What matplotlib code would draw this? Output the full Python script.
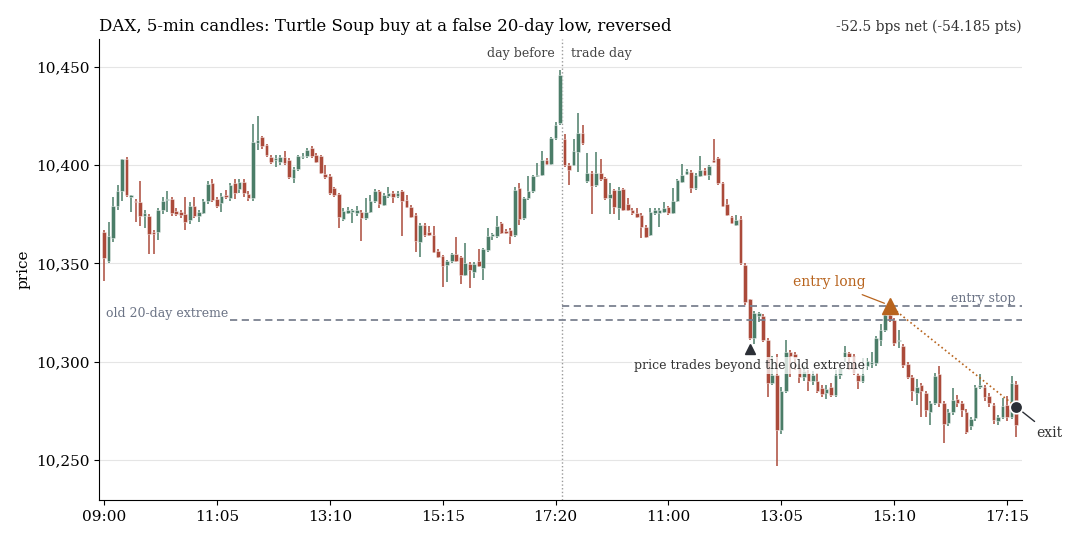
import numpy as np
import matplotlib
matplotlib.use('agg')
import matplotlib.pyplot as plt
from matplotlib.ticker import FuncFormatter

plt.rcParams['font.family'] = 'DejaVu Serif'

# 5-min candles, day before (09:00-17:25) then trade day
day1_open = [10366, 10351, 10363, 10379, 10387, 10403, 10384, 10382, 10381, 10374,
             10374, 10366, 10366, 10377, 10382.3, 10383, 10376.7, 10376.2, 10375, 10372,
             10379, 10374, 10375.5, 10381.5, 10391, 10383, 10380.6, 10385, 10383.2, 10391,
             10388, 10391.6, 10385.4, 10383.2, 10411.1, 10414.2, 10410.3, 10404, 10402.7, 10401.8,
             10403.9, 10402.7, 10393.3, 10397.9, 10404, 10404.4, 10408.6, 10405.2, 10404.4, 10395.5,
             10394.5, 10388.2, 10385.4, 10372.5, 10375.9, 10376.2, 10375.9, 10376, 10373, 10376.4,
             10381.5, 10386.9, 10379.8, 10384.3, 10386, 10384.3, 10386.6, 10382.3, 10378.9, 10374.7,
             10361.1, 10369.6, 10365.8, 10364.5, 10356.5, 10353.8, 10349.2, 10351, 10354.8, 10353.1,
             10344.1, 10349.7, 10345.8, 10351, 10347.5, 10356.9, 10363.7, 10363.7, 10370.4, 10366.7,
             10367, 10364.5, 10388.2, 10373, 10383.2, 10386.6, 10394.5, 10395, 10402.7, 10400.6,
             10413.7, 10421.3]
day1_high = [10367, 10371, 10384, 10390, 10403, 10404, 10385, 10383, 10392, 10377,
             10375, 10367, 10378, 10384, 10387, 10384, 10378, 10377, 10384, 10381,
             10384, 10377, 10383, 10392, 10393, 10384, 10386, 10387.4, 10391, 10393,
             10393, 10393, 10387, 10420.8, 10425, 10415, 10411, 10405, 10405.2, 10405,
             10407, 10403.5, 10399, 10405, 10406, 10408.5, 10409.5, 10406, 10405, 10400,
             10395.5, 10389, 10386, 10378, 10378.5, 10377.8, 10379, 10377, 10383.5, 10384.9,
             10388, 10387.5, 10386, 10389.1, 10386.8, 10387, 10387.5, 10384.9, 10379.5, 10375.5,
             10370.5, 10370.5, 10369.2, 10369, 10357.2, 10354.5, 10351.8, 10355.5, 10363.2, 10353.8,
             10360.6, 10350.5, 10350.5, 10357.2, 10358, 10368.2, 10365.5, 10374.2, 10371.2, 10367.5,
             10367.8, 10389, 10390.8, 10384, 10394.5, 10395.2, 10401, 10407.4, 10403.5, 10414.5,
             10422.2, 10448.5]
day1_low = [10341, 10350, 10361, 10377, 10382, 10384, 10376, 10371, 10369, 10368,
            10355, 10355, 10362, 10375, 10376, 10374, 10374, 10373, 10367, 10370,
            10373, 10371, 10375, 10380, 10381, 10378, 10376, 10383, 10382, 10383,
            10386, 10384, 10382, 10382, 10407.7, 10408, 10404, 10400.5, 10399.3, 10400,
            10400, 10393, 10391, 10397, 10403, 10403.5, 10403.5, 10401, 10395.5, 10393,
            10385, 10384, 10368.2, 10371.5, 10375, 10370.8, 10374, 10361.6, 10372, 10375.5,
            10380.5, 10378.4, 10379, 10383.5, 10380.6, 10383.5, 10364, 10378, 10373, 10355.7,
            10353.5, 10363.5, 10363.8, 10355.5, 10352.8, 10338.2, 10340.7, 10350.2, 10350.8, 10339.6,
            10343.5, 10337.4, 10342.5, 10348, 10341.3, 10356, 10362, 10363, 10365, 10365,
            10359.9, 10363.5, 10369.6, 10372, 10382.5, 10386, 10393.8, 10394.5, 10400, 10400,
            10413, 10420.5]
day1_close = [10353, 10364, 10379, 10387, 10403, 10385, 10384.5, 10381, 10374, 10375.5,
              10365, 10365, 10377, 10382, 10383, 10375.5, 10375.2, 10374.7, 10371, 10379,
              10374, 10376, 10382, 10390.4, 10382.3, 10379, 10384.3, 10383.7, 10390, 10386,
              10391.5, 10385.7, 10383.2, 10412, 10412.8, 10409.5, 10405.2, 10401.8, 10403.5, 10403.9,
              10401, 10393.8, 10397.9, 10404.4, 10404.9, 10407.8, 10404.4, 10401.8, 10396.2, 10393.8,
              10385.7, 10384.9, 10373.5, 10376.7, 10377.2, 10377, 10377.2, 10373, 10376, 10381.5,
              10386.6, 10380.1, 10384.9, 10386, 10384, 10386, 10381.5, 10378.9, 10373.8, 10361.6,
              10369.6, 10364.5, 10364.5, 10356, 10353.5, 10348.7, 10351, 10354.8, 10351.4, 10344.1,
              10350.1, 10346.4, 10349.7, 10348.7, 10357.2, 10363.7, 10364.8, 10369.1, 10365.7, 10365.7,
              10363.7, 10387.4, 10372.5, 10383.2, 10386.9, 10394.5, 10395, 10402.7, 10400.6, 10413.7,
              10420.5, 10445.9]

day2_open = [10413.2, 10400.1, 10400.1, 10406.9, 10416.6, 10392.1, 10395.9, 10389.9, 10396.2, 10393.3,
             10383.2, 10387.4, 10378.1, 10387.7, 10380.3, 10377.2, 10375.5, 10374.7, 10368.7, 10364.5,
             10375.5, 10375.5, 10376.4, 10378.6, 10375.9, 10381.5, 10391.6, 10395.5, 10396.7, 10388.2,
             10394.5, 10397.6, 10395, 10402.7, 10403.5, 10390.8, 10380.3, 10373.5, 10369.6, 10372.5,
             10349.2, 10331.8, 10311.9, 10323, 10323.3, 10311, 10289, 10293, 10265, 10285,
             10305, 10304, 10297, 10292, 10294, 10290, 10290, 10286.5, 10284, 10287,
             10283, 10293, 10302.6, 10304.6, 10303, 10293, 10290, 10298, 10299, 10299.2,
             10311, 10316, 10323.8, 10321, 10310.5, 10308, 10299, 10292.4, 10284, 10288,
             10284, 10274.6, 10279.2, 10293.8, 10279, 10268.7, 10274.6, 10281, 10279, 10274.6,
             10267, 10271.2, 10287, 10287, 10282.6, 10278, 10270, 10272, 10278, 10272,
             10288.7]
day2_high = [10416, 10401, 10413.2, 10426.4, 10420.5, 10406.1, 10396.8, 10406.6, 10403.3, 10394,
             10390.8, 10388, 10389, 10388.5, 10383.2, 10378, 10378.1, 10375.5, 10369.5, 10378.1,
             10378, 10378, 10381, 10379.3, 10388.2, 10393.2, 10400.5, 10398, 10397.4, 10395.8,
             10404.4, 10398.3, 10400.3, 10413.2, 10404.2, 10391.5, 10382.7, 10374.2, 10374.8, 10374,
             10350, 10332, 10326, 10325.5, 10324, 10312, 10303, 10304, 10287, 10311,
             10306, 10305, 10299, 10298, 10296, 10295, 10294, 10288, 10288, 10289,
             10296, 10298, 10308, 10305, 10304, 10294, 10302, 10302, 10305, 10313,
             10319, 10325, 10328.5, 10322, 10316, 10309, 10300, 10293, 10291, 10289,
             10285, 10280, 10294, 10297.8, 10280, 10276, 10286.5, 10283, 10280, 10276,
             10272, 10288, 10293.8, 10288, 10284, 10279, 10273, 10281.4, 10282.6, 10292.7,
             10290]
day2_low = [10399, 10389.9, 10399.5, 10396.7, 10410.5, 10391, 10375.2, 10389, 10392, 10382.5,
            10375.2, 10375.2, 10372.1, 10376.5, 10376.5, 10374.8, 10373, 10363.1, 10362.8, 10363.8,
            10374.8, 10368.7, 10375.8, 10374.8, 10375.2, 10381, 10391, 10395, 10386, 10387.5,
            10394, 10394.5, 10392.5, 10401.2, 10390, 10378.5, 10374, 10369.8, 10369, 10349,
            10329, 10311, 10309, 10320, 10310, 10282, 10288, 10247, 10263, 10284,
            10292, 10296, 10289, 10290, 10285, 10288, 10284, 10282, 10281, 10282,
            10282, 10291, 10300, 10296, 10293, 10286, 10289, 10296, 10297, 10298,
            10308, 10315, 10320, 10308, 10307, 10297, 10291, 10280, 10278, 10272,
            10272, 10268, 10278, 10277, 10258.8, 10267, 10273, 10277, 10272, 10263,
            10265.3, 10270, 10286, 10280, 10277, 10268.3, 10267.8, 10271, 10270, 10271,
            10261.5]
day2_close = [10400.1, 10397.6, 10407.2, 10416.6, 10411.5, 10396.2, 10389.4, 10396.2, 10392.8, 10383.2,
              10385.4, 10378.6, 10387.4, 10377.2, 10377.2, 10375.5, 10373.8, 10368.7, 10363.6, 10376.4,
              10377.2, 10377.2, 10378.1, 10375.5, 10381.5, 10392.5, 10395, 10397.2, 10388.2, 10395,
              10397.6, 10395, 10399.6, 10401.8, 10390.8, 10379.3, 10374.7, 10370.4, 10372.1, 10350.4,
              10330.6, 10311.9, 10325, 10324.6, 10311, 10289, 10293, 10265, 10285, 10305,
              10303, 10302, 10292, 10295, 10290, 10293, 10285, 10283.6, 10286, 10283,
              10293, 10297, 10305, 10302.6, 10294, 10290, 10293, 10300.5, 10300, 10311.9,
              10316, 10323.8, 10321.6, 10309.4, 10311, 10298.4, 10292.4, 10285.3, 10287, 10285,
              10275.4, 10279, 10292.7, 10278.8, 10268.3, 10274.6, 10280.5, 10279, 10275.5, 10264,
              10271, 10287.3, 10288, 10282, 10278.8, 10270.4, 10272, 10277.5, 10272, 10289,
              10267.8]

tick_labels = ['09:00', '11:05', '13:10', '15:15', '17:20', '11:00', '13:05', '15:10', '17:15']

old_extreme = 10321.2
entry_stop = 10328.4
signal_price = 10306.5
exit_price = 10277.0

UP = '#4b7d68'
DOWN = '#ab4a3a'
GUIDE = '#7b8190'
ORANGE = '#b8641e'
DARK = '#2b2f36'


def draw_candles(ax, o, h, l, c):
    x = np.arange(len(o))
    o, h, l, c = map(np.asarray, (o, h, l, c))
    colors = np.where(c >= o, UP, DOWN)
    ax.vlines(x, l, h, colors=colors, linewidth=1.1, zorder=2)
    bottom = np.minimum(o, c)
    height = np.maximum(np.abs(c - o), 0.6)
    ax.bar(x, height, bottom=bottom, width=0.8, color=colors,
           edgecolor=(1, 1, 1, 0.6), linewidth=0.5, zorder=3)
    return x


def main():
    opens = day1_open + day2_open
    highs = day1_high + day2_high
    lows = day1_low + day2_low
    closes = day1_close + day2_close
    n1 = len(day1_open)

    fig = plt.figure(figsize=(10.8, 5.4), dpi=100)
    ax = fig.add_axes([0.0917, 0.0741, 0.8546, 0.8537])

    draw_candles(ax, opens, highs, lows, closes)

    ax.set_xlim(-1.1, 203.3)
    ax.set_ylim(10229.6, 10464.2)

    # day separator
    sep = n1 - 0.5
    ax.axvline(sep, color='#9a9a9a', linestyle=':', linewidth=1.0, zorder=1)
    ax.text(sep - 1.7, 10457, 'day before', ha='right', va='center', fontsize=9, color='#444444')
    ax.text(sep + 1.9, 10457, 'trade day', ha='left', va='center', fontsize=9, color='#444444')

    # guide levels
    ax.hlines(old_extreme, 28, 203.3, colors=GUIDE, linestyles=(0, (4, 2.5)), linewidth=1.3, zorder=4)
    ax.text(0.4, old_extreme + 3.5, 'old 20-day extreme', ha='left', va='center',
            fontsize=9, color='#6b7385')
    ax.hlines(entry_stop, sep, 203.3, colors=GUIDE, linestyles=(0, (4, 2.5)), linewidth=1.3, zorder=4)
    ax.text(201.8, entry_stop + 3.7, 'entry stop', ha='right', va='center',
            fontsize=9, color='#6b7385')

    # signal bar
    sig_i = 143
    ax.plot(sig_i, signal_price, marker='^', color=DARK, markersize=7, zorder=6)
    ax.text(sig_i, signal_price - 8.5, 'price trades beyond the old extreme', ha='center', va='center',
            fontsize=9, color='#333333', zorder=7,
            bbox=dict(boxstyle='square,pad=0.15', facecolor='white', edgecolor='none', alpha=0.75))

    # entry and exit
    entry_i = 174
    exit_i = n1 + len(day2_open) - 1
    ax.plot([entry_i, exit_i], [entry_stop, exit_price], linestyle=':', color=ORANGE,
            linewidth=1.2, zorder=5)
    ax.plot(entry_i, entry_stop, marker='^', color=ORANGE, markersize=11, zorder=7)
    ax.annotate('entry long', xy=(entry_i - 0.6, entry_stop + 0.8), xytext=(160.6, 10340.6),
                ha='center', va='center', fontsize=10, color=ORANGE,
                arrowprops=dict(arrowstyle='-', color=ORANGE, linewidth=0.9, shrinkA=6, shrinkB=2))
    ax.plot(exit_i, exit_price, marker='o', color=DARK, markersize=9,
            markeredgecolor='white', markeredgewidth=1.2, zorder=8)
    ax.annotate('exit', xy=(exit_i, exit_price), xytext=(206.4, 10263.7),
                ha='left', va='center', fontsize=10, color='#333333', annotation_clip=False,
                arrowprops=dict(arrowstyle='-', color=DARK, linewidth=1.0, shrinkA=2, shrinkB=6))

    # axes styling
    ax.set_xticks(np.arange(0, 201, 25))
    ax.set_xticklabels(tick_labels)
    ax.set_yticks(np.arange(10250, 10451, 50))
    ax.yaxis.set_major_formatter(FuncFormatter(lambda v, p: '{:,.0f}'.format(v)))
    ax.tick_params(labelsize=11)
    ax.grid(axis='y', color='#e5e5e5', linewidth=0.8, zorder=0)
    ax.set_axisbelow(True)
    for side in ('top', 'right'):
        ax.spines[side].set_visible(False)
    ax.set_ylabel('price', fontsize=11)

    ax.set_title('DAX, 5-min candles: Turtle Soup buy at a false 20-day low, reversed',
                 loc='left', fontsize=12)
    ax.set_title('-52.5 bps net (-54.185 pts)', loc='right', fontsize=10, color='#333333')

    fig.savefig('out.png', dpi=100)


if __name__ == "__main__":
    main()
